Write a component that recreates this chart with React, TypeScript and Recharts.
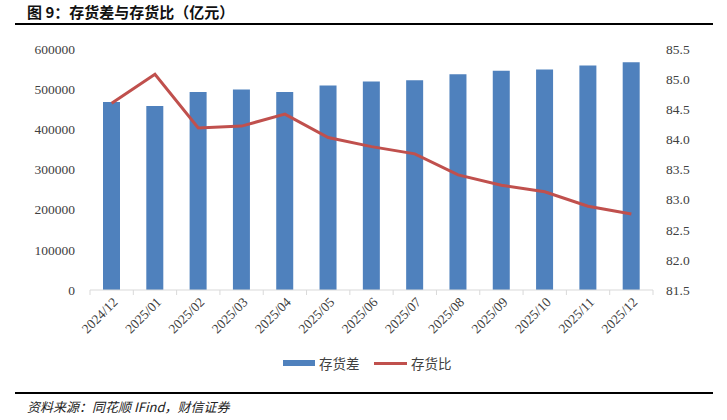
import React from "react";
import { ComposedChart, Bar, Line, XAxis, YAxis } from "recharts";

const months = [
  "2024/12", "2025/01", "2025/02", "2025/03", "2025/04", "2025/05", "2025/06",
  "2025/07", "2025/08", "2025/09", "2025/10", "2025/11", "2025/12",
];
// 存货差（亿元）
const gapValues = [
  468000, 458000, 493000, 499000, 493000, 509000, 519000,
  522000, 537000, 546000, 549000, 559000, 567000,
];
// 存货比（%）
const ratioValues = [
  84.6, 85.08, 84.19, 84.22, 84.42, 84.03, 83.88,
  83.76, 83.41, 83.24, 83.13, 82.89, 82.76,
];
const leftTicks = [0, 100000, 200000, 300000, 400000, 500000, 600000];
const rightTicks = [81.5, 82.0, 82.5, 83.0, 83.5, 84.0, 84.5, 85.0, 85.5];

const data = months.map((m, i) => ({
  month: m,
  gap: gapValues[i],
  ratio: ratioValues[i],
}));

const BLUE = "#4F81BD";
const RED = "#C0504D";
const TEXT = "#404040";
const SERIF = '"Liberation Serif", "Times New Roman", serif';
const CJK = '"Noto Sans CJK SC", sans-serif';

const W = 727;
const PLOT_LEFT = 90;
const PLOT_RIGHT = 653;
const BAND = (PLOT_RIGHT - PLOT_LEFT) / months.length;

function MonthTick({ x, y, payload, index }: any) {
  const last = index === months.length - 1;
  return (
    <g>
      <line x1={x - BAND / 2} x2={x - BAND / 2} y1={y} y2={y + 5} stroke="#D9D9D9" />
      {last && <line x1={x + BAND / 2} x2={x + BAND / 2} y1={y} y2={y + 5} stroke="#D9D9D9" />}
      <text
        x={x + 7}
        y={y + 13}
        textAnchor="end"
        transform={`rotate(-45 ${x + 7} ${y + 13})`}
        fontSize={13.5}
        fill={TEXT}
        style={{ fontFamily: SERIF }}
      >
        {payload.value}
      </text>
    </g>
  );
}

function ValueTick({ x, y, payload, anchor, digits }: any) {
  const v = digits ? Number(payload.value).toFixed(digits) : String(payload.value);
  return (
    <text
      x={x}
      y={y}
      dy="0.355em"
      textAnchor={anchor}
      fontSize={13.5}
      fill={TEXT}
      style={{ fontFamily: SERIF }}
    >
      {v}
    </text>
  );
}

export default function App() {
  return (
    <div style={{ position: "absolute", left: 0, top: 0, width: W, height: 420, background: "#fff" }}>
      <div
        style={{
          position: "absolute",
          left: 27,
          top: 2,
          fontFamily: CJK,
          fontWeight: 700,
          fontSize: 15,
          color: "#111",
          lineHeight: "20px",
        }}
      >
        图 9：存货差与存货比（亿元）
      </div>
      <div style={{ position: "absolute", left: 15, top: 23, width: 698, height: 2, background: "#000" }} />

      <div style={{ position: "absolute", left: 0, top: 0 }}>
        <ComposedChart
          width={W}
          height={345}
          data={data}
          margin={{ top: 49, right: 0, left: 0, bottom: 0 }}
        >
          <XAxis
            dataKey="month"
            height={55}
            axisLine={{ stroke: "#D9D9D9" }}
            tickLine={false}
            tickSize={0}
            tickMargin={0}
            interval={0}
            tick={<MonthTick />}
          />
          <YAxis
            yAxisId="left"
            width={PLOT_LEFT}
            domain={[0, 600000]}
            ticks={leftTicks}
            axisLine={false}
            tickLine={false}
            tickSize={0}
            tickMargin={15}
            tick={<ValueTick anchor="end" digits={0} />}
          />
          <YAxis
            yAxisId="right"
            orientation="right"
            width={W - PLOT_RIGHT}
            domain={[81.5, 85.5]}
            ticks={rightTicks}
            axisLine={false}
            tickLine={false}
            tickSize={0}
            tickMargin={13}
            tick={<ValueTick anchor="start" digits={1} />}
          />
          <Bar yAxisId="left" dataKey="gap" fill={BLUE} barSize={17} isAnimationActive={false} />
          <Line
            yAxisId="right"
            dataKey="ratio"
            type="linear"
            stroke={RED}
            strokeWidth={3}
            dot={false}
            activeDot={false}
            isAnimationActive={false}
          />
        </ComposedChart>
      </div>

      <div style={{ position: "absolute", left: 283, top: 360, width: 32, height: 6, background: BLUE }} />
      <div
        style={{
          position: "absolute",
          left: 319,
          top: 354,
          fontFamily: CJK,
          fontSize: 13.5,
          color: TEXT,
          lineHeight: "18px",
        }}
      >
        存货差
      </div>
      <div style={{ position: "absolute", left: 374, top: 362, width: 33, height: 3, background: RED }} />
      <div
        style={{
          position: "absolute",
          left: 411,
          top: 354,
          fontFamily: CJK,
          fontSize: 13.5,
          color: TEXT,
          lineHeight: "18px",
        }}
      >
        存货比
      </div>

      <div style={{ position: "absolute", left: 15, top: 392, width: 698, height: 2, background: "#000" }} />
      <div
        style={{
          position: "absolute",
          left: 27,
          top: 398,
          fontFamily: CJK,
          fontStyle: "italic",
          fontSize: 13,
          color: "#222",
          lineHeight: "18px",
        }}
      >
        资料来源：同花顺 IFind，财信证券
      </div>
    </div>
  );
}
